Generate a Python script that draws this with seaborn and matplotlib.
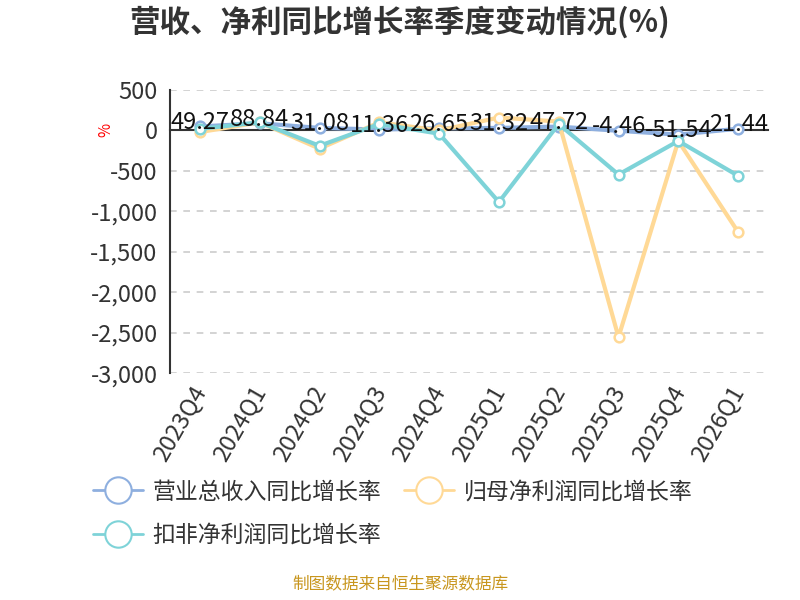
import numpy as np
import pandas as pd
import seaborn as sns
import matplotlib.pyplot as plt
import matplotlib.transforms as mtransforms
from matplotlib.lines import Line2D

quarters = ['2023Q4', '2024Q1', '2024Q2', '2024Q3', '2024Q4',
            '2025Q1', '2025Q2', '2025Q3', '2025Q4', '2026Q1']
revenue = [49.27, 88.84, 31.08, 11.36, 26.65, 31.32, 47.72, -4.46, -51.54, 21.44]
net_profit = [-20, 100, -225, 100, 0, 160, 110, -2555, -130, -1255]
deducted = [20, 100, -190, 80, -40, -885, 80, -545, -130, -560]
names = ['营业总收入同比增长率', '归母净利润同比增长率', '扣非净利润同比增长率']
colors = ['#8EAFDF', '#FFD996', '#7ED3D8']

sns.set_theme(style='white')
plt.rcParams['font.family'] = ['Noto Sans CJK SC', 'DejaVu Sans']

df = pd.DataFrame({
    'q': list(range(len(quarters))) * 3,
    'v': revenue + net_profit + deducted,
    's': [names[0]] * 10 + [names[1]] * 10 + [names[2]] * 10,
})

fig = plt.figure(figsize=(8, 6), dpi=100)
ax = fig.add_axes([0.2125, 0.378, 0.7475, 0.472])

# revenue first, then teal, orange on top
for k in [0, 2, 1]:
    sns.lineplot(data=df[df['s'] == names[k]], x='q', y='v', ax=ax, color=colors[k],
                 lw=3, marker='o', markersize=7, markerfacecolor='white',
                 markeredgecolor=colors[k], markeredgewidth=1.8, legend=False,
                 zorder=3 + k)

for i, v in enumerate(revenue):
    ax.annotate(f'{v:.2f}', (i, v), xytext=(0, 3), textcoords='offset points',
                ha='center', va='center', fontsize=17, color='#111111', zorder=10)

ax.set_xlim(-0.5, len(quarters) - 0.5)
ax.set_ylim(-3000, 500)
yt = np.arange(-3000, 501, 500)
ax.set_yticks(yt)
ax.set_yticklabels([f'{t:,}' for t in yt], fontsize=17, color='#333333')
ax.set_xticks(np.arange(-0.5, len(quarters), 1))
ax.set_xticklabels([])
ax.tick_params(axis='x', length=6, direction='out', color='#333333', width=1.2)
ax.tick_params(axis='y', length=5, color='#333333', pad=4)

# category labels under the plot area
trans = mtransforms.blended_transform_factory(ax.transData, ax.transAxes)
for i, q in enumerate(quarters):
    ax.text(i - 0.15, -0.03, q, transform=trans, rotation=60, ha='right', va='top',
            rotation_mode='anchor', fontsize=17, color='#333333')

ax.yaxis.grid(True, ls=(0, (4, 4)), color='#cccccc', lw=1.2)
ax.set_xlabel('')
ax.set_ylabel('')
for s in ['top', 'right']:
    ax.spines[s].set_visible(False)
ax.spines['bottom'].set_position(('data', 0))
ax.spines['bottom'].set_color('#333333')
ax.spines['left'].set_color('#333333')
ax.spines['left'].set_linewidth(1.5)
ax.spines['bottom'].set_linewidth(1.5)

fig.text(0.132, 0.783, '%', color='red', fontsize=11, rotation=90, ha='center', va='center')

fig.suptitle('营收、净利同比增长率季度变动情况(%)', x=0.5, y=0.99, fontsize=22,
             fontweight='bold', color='#333333')

handles = [Line2D([0], [0], color=c, lw=2, marker='o', markersize=19,
                  markerfacecolor='white', markeredgecolor=c, markeredgewidth=1.5)
           for c in colors]
fig.legend(handles[:2], names[:2], loc='center left', bbox_to_anchor=(0.09, 0.18),
           ncol=2, frameon=False, fontsize=16.5, handlelength=2.2, columnspacing=1.0,
           handletextpad=0.4, labelcolor='#333333')
fig.legend(handles[2:], names[2:], loc='center left', bbox_to_anchor=(0.09, 0.108),
           frameon=False, fontsize=16.5, handlelength=2.2, handletextpad=0.4,
           labelcolor='#333333')

fig.text(0.5, 0.018, '制图数据来自恒生聚源数据库', color='#C8961E', fontsize=12, ha='center')

fig.savefig('out.png', dpi=100)
